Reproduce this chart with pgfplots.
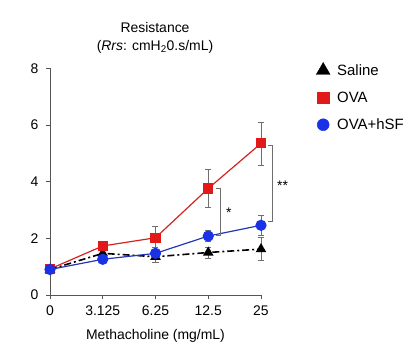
\documentclass[border=0pt]{standalone}
\usepackage{pgfplots}
\pgfplotsset{compat=1.18}
\usepackage{fontspec}
\setmainfont{Liberation Sans}
\definecolor{ovared}{RGB}{225,25,25}
\definecolor{ovaline}{RGB}{210,35,35}
\definecolor{hsfblue}{RGB}{25,50,230}
\definecolor{hsfline}{RGB}{35,55,180}
\definecolor{axgray}{RGB}{85,85,85}
\definecolor{errgray}{RGB}{110,110,110}
\pgfplotsset{
  myerr/.style={
    draw=none, mark=none, forget plot,
    error bars/y dir=both, error bars/y explicit,
    error bars/error bar style={errgray, line width=0.6pt, solid},
    error bars/error mark options={rotate=90, mark size=3bp, errgray, line width=0.6pt, solid},
  }
}
\begin{document}
\begin{tikzpicture}
\path[use as bounding box] (0bp,0bp) rectangle (406bp,352bp);
\node[align=center, font=\fontsize{14}{18}\selectfont] at (155bp,314bp) {Resistance\\(\textit{Rrs}: cmH\textsubscript{2}0.s/mL)};
\begin{axis}[
  at={(50bp,57bp)}, anchor=south west,
  scale only axis, width=211bp, height=226.7bp,
  xmin=0, xmax=4, ymin=0, ymax=8,
  axis x line*=bottom, axis y line*=left,
  axis line style={axgray, line width=0.8pt, -},
  xtick={0,1,2,3,4}, xticklabels={0,3.125,6.25,12.5,25},
  ytick={0,2,4,6,8},
  tick align=outside, major tick length=4bp,
  tick style={axgray, line width=0.8pt},
  /pgf/number format/assume math mode=true,
  tick label style={font=\fontsize{14}{16}\selectfont},
  yticklabel style={xshift=-4bp},
  xticklabel style={yshift=-3bp},
  xlabel={Methacholine (mg/mL)},
  xlabel style={at={(axis description cs:0.5,-0.181)}, anchor=center, font=\fontsize{14}{16}\selectfont},
  clip=false,
  legend style={at={(rel axis cs:1.237,1.036)}, anchor=north west, draw=none, fill=none,
    font=\fontsize{15}{17}\selectfont, row sep=11bp},
  legend cell align=left,
  legend image code/.code={\path[draw=none,fill=none] (0bp,0bp) -- (21bp,0bp); \draw[#1] plot coordinates {(9bp,0bp)};},
]
\addlegendimage{only marks, mark=triangle*, mark size=8bp, black}
\addlegendentry{Saline}
\addlegendimage{only marks, mark=square*, mark size=5.8bp, ovared, mark options={fill=ovared, draw=ovared}}
\addlegendentry{OVA}
\addlegendimage{only marks, mark=*, mark size=6bp, hsfblue, mark options={fill=hsfblue, draw=hsfblue}}
\addlegendentry{OVA+hSF}

% error bars (drawn first, behind the markers)
\addplot[myerr] coordinates {
  (0,0.90) +- (0,0.05) (1,1.47) +- (0,0.10) (2,1.35) +- (0,0.18) (3,1.50) +- (0,0.20) (4,1.62) +- (0,0.40)
};
\addplot[myerr] coordinates {
  (0,0.92) +- (0,0.05) (1,1.73) +- (0,0.10) (2,2.02) +- (0,0.40) (3,3.76) +- (0,0.67) (4,5.35) +- (0,0.76)
};
\addplot[myerr] coordinates {
  (0,0.90) +- (0,0.05) (1,1.26) +- (0,0.08) (2,1.47) +- (0,0.20) (3,2.08) +- (0,0.20) (4,2.46) +- (0,0.35)
};

% Saline
\addplot[black, line width=1.6pt, dash pattern=on 7bp off 3bp on 2bp off 3bp,
  mark=triangle*, mark size=4.5bp, mark options={solid, fill=black}, forget plot]
  coordinates {(0,0.90) (1,1.47) (2,1.35) (3,1.50) (4,1.62)};
% OVA
\addplot[ovaline, line width=1.2pt,
  mark=square*, mark size=4.5bp, mark options={fill=ovared, draw=ovared}, forget plot]
  coordinates {(0,0.92) (1,1.73) (2,2.02) (3,3.76) (4,5.35)};
% OVA+hSF
\addplot[hsfline, line width=1.2pt,
  mark=*, mark size=5bp, mark options={fill=hsfblue, draw=hsfblue}, forget plot]
  coordinates {(0,0.90) (1,1.26) (2,1.47) (3,2.08) (4,2.46)};

\draw[errgray, line width=0.7pt] (axis cs:3.14,3.78) -- (axis cs:3.22,3.78) -- (axis cs:3.22,2.12) -- (axis cs:3.14,2.12);
\node[font=\fontsize{14}{16}\selectfont] at (axis cs:3.39,2.92) {*};
\draw[errgray, line width=0.7pt] (axis cs:4.14,5.29) -- (axis cs:4.22,5.29) -- (axis cs:4.22,2.59) -- (axis cs:4.14,2.59);
\node[font=\fontsize{14}{16}\selectfont] at (axis cs:4.41,3.84) {**};
\end{axis}
\end{tikzpicture}
\end{document}
